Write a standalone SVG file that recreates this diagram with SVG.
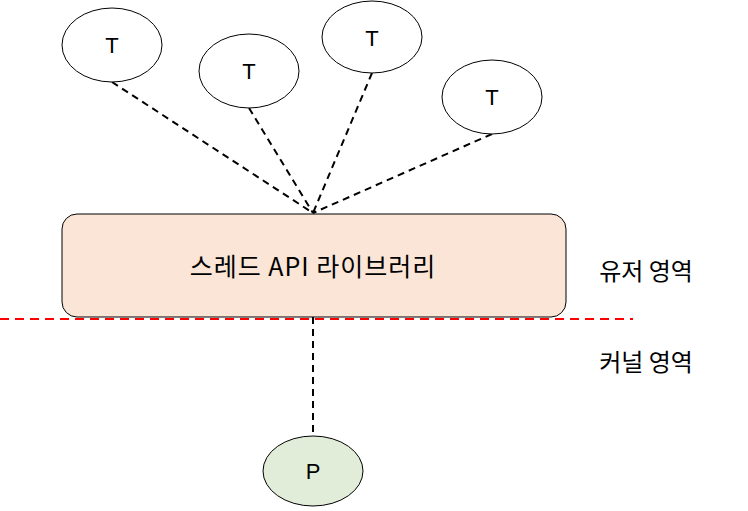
<svg xmlns="http://www.w3.org/2000/svg" width="748" height="511" viewBox="0 0 748 511">
<style>
.n{stroke:#000;stroke-width:1}
.t{fill:#fff}
.lbl{font-family:"Liberation Sans",Arial,sans-serif;font-size:22px;fill:#000;text-anchor:middle}
.kr{font-family:"Noto Sans CJK KR","Noto Sans",sans-serif;font-size:24px;fill:#000;text-anchor:middle}
.big{font-size:25px;letter-spacing:1px}
.c{stroke:#000;stroke-width:2;stroke-dasharray:7,5;fill:none}
</style>
<rect width="748" height="511" fill="#fff"/>
<g id="connectors">
<line class="c" x1="112" y1="82" x2="313" y2="213"/>
<line class="c" x1="249" y1="108" x2="313" y2="213"/>
<line class="c" x1="372" y1="73" x2="313" y2="213"/>
<line class="c" x1="492" y1="134" x2="313" y2="213"/>
<line class="c" x1="313" y1="317" x2="313" y2="436"/>
</g>
<g id="t1"><ellipse class="n t" cx="112" cy="45" rx="50" ry="37"/><text class="lbl" x="112" y="53">T</text></g>
<g id="t2"><ellipse class="n t" cx="249" cy="71" rx="50" ry="37"/><text class="lbl" x="249" y="79">T</text></g>
<g id="t3"><ellipse class="n t" cx="372" cy="37" rx="50" ry="36"/><text class="lbl" x="372" y="46">T</text></g>
<g id="t4"><ellipse class="n t" cx="492" cy="97" rx="50" ry="37"/><text class="lbl" x="492" y="105">T</text></g>
<g id="lib"><rect class="n" x="62" y="214" width="504" height="103" rx="15" fill="#fae5d7"/><text class="kr big" x="313" y="276">스레드 API 라이브러리</text></g>
<g id="boundary"><line x1="0" y1="319" x2="633" y2="319" stroke="#ff0000" stroke-width="2" stroke-dasharray="9,6"/></g>
<g id="user"><text class="kr" x="646" y="280">유저 영역</text></g>
<g id="kernel"><text class="kr" x="646" y="371">커널 영역</text></g>
<g id="p"><ellipse class="n" cx="313" cy="471" rx="50" ry="35" fill="#e1edd8"/><text class="lbl" x="313" y="479">P</text></g>
</svg>
